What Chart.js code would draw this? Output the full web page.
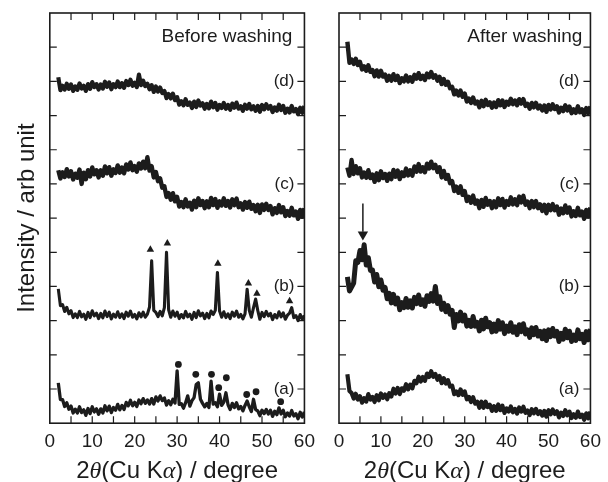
<!DOCTYPE html>
<html><head><meta charset="utf-8">
<script src="https://cdn.jsdelivr.net/npm/chart.js@4.4.1/dist/chart.umd.min.js"></script>
<style>
html,body{margin:0;padding:0;background:#fff;width:608px;height:482px;overflow:hidden}
#left{position:absolute;left:0;top:0}
#right{position:absolute;left:322px;top:0}
</style></head><body>
<canvas id="left" width="322" height="482"></canvas>
<canvas id="right" width="286" height="482"></canvas>
<script>
// 2theta grid (degree)
const angles = [
2,2.5,3,3.5,4,4.5,5,5.5,6,6.5,
7,7.5,8,8.5,9,9.5,10,10.5,11,11.5,
12,12.5,13,13.5,14,14.5,15,15.5,16,16.5,
17,17.5,18,18.5,19,19.5,20,20.5,21,21.5,
22,22.5,23,23.5,24,24.5,25,25.5,26,26.5,
27,27.5,28,28.5,29,29.5,30,30.5,31,31.5,
32,32.5,33,33.5,34,34.5,35,35.5,36,36.5,
37,37.5,38,38.5,39,39.5,40,40.5,41,41.5,
42,42.5,43,43.5,44,44.5,45,45.5,46,46.5,
47,47.5,48,48.5,49,49.5,50,50.5,51,51.5,
52,52.5,53,53.5,54,54.5,55,55.5,56,56.5,
57,57.5,58,58.5,59,59.5,60];

// Before washing (offset intensities, arb. units x100)
const beforeD = [
1012,974,987,976,993,978,991,972,985,975,
994,979,987,972,992,978,998,983,992,976,
991,979,999,984,997,977,992,983,1000,983,
995,981,1001,989,1005,987,996,983,1020,989,
1002,986,993,977,989,969,985,970,982,966,
972,951,963,950,964,945,954,932,942,930,
948,931,938,922,941,925,944,929,936,920,
934,921,941,924,937,917,931,922,937,920,
931,917,935,923,938,920,927,914,932,920,
934,918,927,914,928,911,931,918,933,920,
928,910,924,914,932,916,928,908,920,909,
928,912,919,904,923,908,928];
const beforeC = [
740,716,734,720,743,722,737,713,730,718,
742,700,733,714,740,722,748,728,740,719,
740,724,751,731,749,724,743,732,754,733,
748,731,757,742,763,740,752,736,760,745,
765,746,778,739,752,719,735,708,716,689,
693,662,673,654,673,649,662,634,647,632,
655,634,645,625,651,632,658,638,650,629,
649,632,659,638,656,630,649,637,658,636,
650,631,655,638,657,632,643,625,647,630,
648,627,638,620,639,615,640,624,642,624,
635,611,629,615,638,617,632,606,621,607,
630,608,619,598,624,604,629];
const beforeB = [
393,344,347,327,339,320,329,309,320,309,
327,311,319,304,324,309,329,314,322,306,
321,308,328,312,325,305,319,310,326,309,
320,306,325,313,328,310,318,305,323,311,
325,310,319,340,475,330,324,312,327,314,
338,500,332,310,328,313,325,306,318,308,
327,311,319,304,324,309,329,314,322,306,
321,308,328,318,330,441,328,310,326,309,
320,306,325,313,328,310,318,305,320,392,
330,310,338,363,330,304,324,312,327,314,
321,303,318,308,326,311,323,304,316,322,
338,309,315,300,318,304,315];
const beforeA = [
118,69,69,49,60,41,50,30,41,30,
48,31,39,23,43,28,48,33,42,26,
42,30,51,36,50,31,46,38,55,39,
52,40,61,51,67,51,61,49,68,57,
72,58,68,56,72,56,77,65,80,66,
74,53,66,54,70,59,153,55,57,44,
60,80,50,66,75,113,118,70,58,48,
58,46,123,56,60,48,85,52,62,89,
54,40,58,46,60,42,49,36,52,65,
48,34,70,40,36,22,38,28,40,27,
38,20,35,25,45,27,38,19,30,21,
37,21,28,13,32,18,33];

// After washing
const afterD = [
1116,1054,1064,1051,1066,1048,1057,1035,1044,1031,
1047,1028,1033,1015,1032,1014,1031,1014,1020,1002,
1016,1002,1021,1004,1016,995,1009,1000,1017,1000,
1012,999,1019,1008,1024,1007,1016,1004,1023,1012,
1027,1011,1018,1002,1013,992,1007,990,999,980,
984,962,973,959,973,955,964,941,950,937,
953,935,941,924,943,927,946,931,939,923,
938,925,945,930,944,925,940,932,949,933,
944,930,948,935,948,928,934,920,937,924,
937,921,929,915,929,911,931,918,933,919,
927,909,923,913,930,915,926,907,918,908,
927,910,918,902,922,907,927];
const afterC = [
748,724,770,729,752,731,746,719,733,718,
740,717,727,706,731,711,737,717,729,709,
730,714,741,721,739,714,734,723,745,725,
740,724,751,736,758,736,749,734,759,745,
765,746,756,735,749,719,738,715,726,702,
708,679,692,674,693,668,679,650,662,645,
666,642,651,629,653,633,659,639,650,629,
649,632,658,638,656,631,650,639,661,640,
655,638,663,646,665,639,648,629,650,632,
650,629,640,621,639,614,639,623,641,623,
634,610,628,614,637,616,631,605,620,606,
630,608,619,598,624,605,631];
const afterB = [
428,387,398,410,475,470,505,478,522,463,
484,447,448,413,435,399,419,389,397,364,
380,352,377,349,366,332,353,338,365,339,
358,337,368,350,375,347,361,342,373,356,
379,357,400,350,370,333,351,326,344,319,
330,280,318,299,325,299,316,284,301,283,
312,284,295,270,301,276,307,282,294,267,
290,269,300,275,294,262,284,269,294,266,
282,259,288,268,291,261,273,251,279,259,
280,255,269,247,270,242,273,253,277,255,
269,239,263,246,275,250,269,239,258,242,
273,247,260,236,268,244,276];
const afterA = [
143,94,88,72,86,69,79,60,73,63,
85,69,77,62,82,67,87,74,84,70,
88,78,101,87,103,85,102,95,114,99,
113,102,124,117,136,122,135,124,145,135,
152,136,144,127,138,117,132,116,126,107,
110,85,93,82,99,83,93,70,77,62,
76,57,63,45,63,45,63,47,54,36,
50,36,55,38,51,30,43,34,49,32,
42,28,46,34,48,30,37,24,41,29,
42,27,35,22,36,19,38,26,40,27,
35,17,31,21,38,23,34,15,26,16,
34,18,25,10,29,14,34];

// Peak markers (before washing)
const triangleAngles = [23.7, 27.7, 39.6, 46.8, 48.8, 56.5];
const triangleLevels = [508, 526, 467, 409, 379, 357];
const circleAngles = [30.3, 34.4, 38.1, 39.8, 41.6, 46.4, 48.6, 54.4];
const circleLevels = [172, 143, 143, 104, 133, 84, 92, 63];
// Arrow (after washing, trace b)
const arrowAngle = 5.7;
const arrowShaftLevels = [643, 560];
const arrowHeadLevel = 552;

const traceLabels = ['(a)', '(b)', '(c)', '(d)'];
const traceLevels = [100, 400, 700, 1000];
const panelTitles = ['Before washing', 'After washing'];
const yTitle = 'Intensity / arb unit';
const xTitleParts = [['2', false], ['\u03b8', true], ['(Cu K', false], ['\u03b1', true], [') / degree', false]];

const INK = '#1c1c1c';
const FONT = '"Liberation Sans", Arial, Helvetica, sans-serif';

function tracePoints(vals) { return angles.map((a, i) => ({x: a, y: vals[i]})); }
function pairPoints(xs, ys) { return xs.map((x, i) => ({x: x, y: ys[i]})); }
function traceDataset(vals, width) {
  return {data: tracePoints(vals), borderColor: INK, borderWidth: width, borderJoinStyle: 'round',
          pointRadius: 0, tension: 0, fill: false};
}
function markerDataset(xs, ys, style, r) {
  return {data: pairPoints(xs, ys), showLine: false, pointStyle: style, pointRadius: r,
          pointBackgroundColor: INK, pointBorderColor: INK, pointBorderWidth: 0};
}

const framePlugin = {
  id: 'frame',
  afterDatasetsDraw(chart, args, opts) {
    const ctx = chart.ctx, a = chart.chartArea, x = chart.scales.x, y = chart.scales.y;
    ctx.save();
    ctx.strokeStyle = INK;
    ctx.lineWidth = 1.6;
    ctx.strokeRect(a.left, a.top, a.right - a.left, a.bottom - a.top);
    ctx.lineWidth = 1.2;
    const tl = 7;
    ctx.beginPath();
    for (let v = x.min + 5; v < x.max; v += 5) {
      const px = x.getPixelForValue(v);
      ctx.moveTo(px, a.bottom); ctx.lineTo(px, a.bottom - tl);
      ctx.moveTo(px, a.top); ctx.lineTo(px, a.top + tl);
    }
    for (let v = y.min + 100; v < y.max; v += 100) {
      const py = y.getPixelForValue(v);
      ctx.moveTo(a.left, py); ctx.lineTo(a.left + tl, py);
      ctx.moveTo(a.right, py); ctx.lineTo(a.right - tl, py);
    }
    ctx.stroke();
    ctx.fillStyle = INK;
    ctx.font = '17px ' + FONT;
    ctx.textAlign = 'right';
    ctx.textBaseline = 'middle';
    traceLabels.forEach((t, i) => ctx.fillText(t, a.right - opts.labelGap, y.getPixelForValue(traceLevels[i])));
    ctx.font = '19px ' + FONT;
    ctx.textBaseline = 'alphabetic';
    ctx.fillText(opts.title, a.right - opts.titleGap, a.top + 29);
    // x axis title with italic Greek letters
    const normal = '24px ' + FONT, ital = 'italic 24px "Liberation Serif", serif';
    let w = 0;
    xTitleParts.forEach(p => { ctx.font = p[1] ? ital : normal; w += ctx.measureText(p[0]).width; });
    let cx = (a.left + a.right) / 2 - w / 2;
    ctx.textAlign = 'left';
    xTitleParts.forEach(p => { ctx.font = p[1] ? ital : normal; ctx.fillText(p[0], cx, 478); cx += ctx.measureText(p[0]).width; });
    ctx.restore();
  }
};

function makeChart(id, datasets, cfg) {
  return new Chart(document.getElementById(id), {
    type: 'line',
    data: {datasets: datasets},
    options: {
      responsive: false, animation: false, events: [],
      layout: {autoPadding: false, padding: cfg.padding},
      plugins: {legend: {display: false}, tooltip: {enabled: false}, frame: cfg.frame},
      scales: {
        x: {type: 'linear', min: 0, max: 60,
            ticks: {stepSize: 10, color: INK, font: {family: FONT, size: 19}, padding: 7, maxRotation: 0, autoSkip: false},
            grid: {display: false, drawTicks: false}, border: {display: false}},
        y: {type: 'linear', min: 0, max: 1200, display: !!cfg.yTitle,
            ticks: {display: false, stepSize: 100},
            grid: {display: false, drawTicks: false}, border: {display: false},
            title: {display: !!cfg.yTitle, text: cfg.yTitle || '', color: INK,
                    font: {family: FONT, size: 24}, padding: {top: 13, bottom: 8}}}
      }
    },
    plugins: [framePlugin]
  });
}

makeChart('left', [
  traceDataset(beforeA, 3.3), traceDataset(beforeB, 3.1), traceDataset(beforeC, 4.4), traceDataset(beforeD, 4.2),
  markerDataset(triangleAngles, triangleLevels, 'triangle', 4.3),
  markerDataset(circleAngles, circleLevels, 'circle', 3.4)
], {padding: {left: 0, right: 16.5, top: 13, bottom: 22}, yTitle: yTitle,
    frame: {title: panelTitles[0], labelGap: 10, titleGap: 12}});

makeChart('right', [
  traceDataset(afterA, 4.2), traceDataset(afterB, 5.0), traceDataset(afterC, 4.4), traceDataset(afterD, 4.4),
  {data: pairPoints([arrowAngle, arrowAngle], arrowShaftLevels), borderColor: INK, borderWidth: 1.5, pointRadius: 0},
  {data: [{x: arrowAngle, y: arrowHeadLevel}], showLine: false, pointStyle: 'triangle', rotation: 180,
   pointRadius: 6, pointBackgroundColor: INK, pointBorderColor: INK, pointBorderWidth: 0}
], {padding: {left: 17, right: 13, top: 13, bottom: 22}, yTitle: null,
    frame: {title: panelTitles[1], labelGap: 11, titleGap: 8}});
</script>
</body></html>
